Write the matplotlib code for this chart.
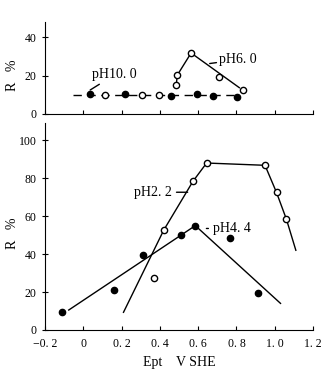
import matplotlib
matplotlib.use("Agg")
import matplotlib.pyplot as plt

plt.rcParams['font.family'] = ['Liberation Serif', 'DejaVu Serif']

# ---- top panel data ----
ph10_filled_x = [0.036, 0.218, 0.459, 0.592, 0.679, 0.802]
ph10_filled_y = [10.2, 10.2, 9.4, 10.4, 9.2, 9.0]
ph10_open_x = [0.113, 0.305, 0.393]
ph10_open_y = [9.7, 9.7, 9.7]
ph10_line_x = [-0.054, 0.815]
ph10_line_y = [9.7, 9.7]

ph6_open_x = [0.486, 0.49, 0.563, 0.71, 0.833]
ph6_open_y = [15.1, 20.1, 31.8, 19.4, 12.5]
ph6_line_x = [0.486, 0.49, 0.563, 0.815]
ph6_line_y = [15.1, 20.1, 31.8, 13.7]

# ---- bottom panel data ----
ph22_open_x = [0.42, 0.573, 0.644, 0.949, 1.009, 1.061, 0.369]
ph22_open_y = [52.6, 78.4, 88.0, 86.8, 72.5, 58.3, 27.5]
ph22_line_x = [0.21, 0.42, 0.573, 0.644, 0.949, 1.009, 1.061, 1.11]
ph22_line_y = [9.3, 52.6, 78.4, 88.0, 86.8, 72.5, 58.3, 42.0]

ph44_filled_x = [-0.11, 0.16, 0.313, 0.51, 0.585, 0.767, 0.911]
ph44_filled_y = [9.3, 20.9, 39.6, 50.0, 54.7, 48.3, 19.5]
ph44_line_x = [-0.076, 0.585, 1.03]
ph44_line_y = [10.5, 55.0, 14.0]

xticks = [-0.2, 0, 0.2, 0.4, 0.6, 0.8, 1.0, 1.2]
xticklabels = ['\u22120. 2', '0', '0. 2', '0. 4', '0. 6', '0. 8', '1. 0', '1. 2']
top_yticks = [0, 20, 40]
bot_yticks = [0, 20, 40, 60, 80, 100]

fig = plt.figure(figsize=(3.32, 3.85), dpi=100)
ax1 = fig.add_axes([0.1355, 0.704, 0.8075, 0.239])
ax2 = fig.add_axes([0.1355, 0.143, 0.8075, 0.537])

ms = 4.5
for ax in (ax1, ax2):
    ax.spines['top'].set_visible(False)
    ax.spines['right'].set_visible(False)
    ax.set_xlim(-0.2, 1.2)
    ax.set_xticks(xticks)
    ax.tick_params(axis='x', direction='in', length=3, labelsize=8.5, pad=6)
    ax.tick_params(axis='y', direction='inout', length=5, labelsize=8.5)

# top panel
ax1.plot(ph10_line_x, ph10_line_y, color='black', lw=1, dashes=(6, 4))
ax1.plot(ph10_filled_x, ph10_filled_y, 'o', color='black', ms=ms, ls='none')
ax1.plot(ph10_open_x, ph10_open_y, 'o', mfc='white', mec='black', mew=1, ms=ms, ls='none')
ax1.plot(ph6_line_x, ph6_line_y, color='black', lw=1)
ax1.plot(ph6_open_x, ph6_open_y, 'o', mfc='white', mec='black', mew=1, ms=ms, ls='none')
ax1.annotate('pH10. 0', xy=(0.036, 12.5), xytext=(0.045, 18.5), fontsize=10,
             arrowprops=dict(arrowstyle='-', color='black', lw=1, shrinkA=0, shrinkB=0))
ax1.annotate('pH6. 0', xy=(0.66, 26.3), xytext=(0.71, 26.5), fontsize=10,
             arrowprops=dict(arrowstyle='-', color='black', lw=1, shrinkA=0, shrinkB=0))
ax1.set_ylim(0, 48)
ax1.set_yticks(top_yticks)
ax1.set_xticklabels([])
ax1.set_ylabel('R   %', fontsize=10)
ax1.yaxis.set_label_coords(-0.097, 0.42)

# bottom panel
ax2.plot(ph22_line_x, ph22_line_y, color='black', lw=1)
ax2.plot(ph44_line_x, ph44_line_y, color='black', lw=1)
ax2.plot(ph22_open_x, ph22_open_y, 'o', mfc='white', mec='black', mew=1, ms=ms, ls='none')
ax2.plot(ph44_filled_x, ph44_filled_y, 'o', color='black', ms=ms, ls='none')
ax2.annotate('pH2. 2', xy=(0.545, 72.6), xytext=(0.465, 72.6), fontsize=10,
             va='center', ha='right',
             arrowprops=dict(arrowstyle='-', color='black', lw=1, shrinkA=1, shrinkB=0))
ax2.annotate('pH4. 4', xy=(0.643, 53.5), xytext=(0.675, 53.5), fontsize=10, va='center',
             arrowprops=dict(arrowstyle='-', color='black', lw=1, shrinkA=1, shrinkB=0))
ax2.set_ylim(0, 109)
ax2.set_yticks(bot_yticks)
ax2.set_xticklabels(xticklabels)
ax2.set_ylabel('R   %', fontsize=10)
ax2.yaxis.set_label_coords(-0.097, 0.47)
ax2.set_xlabel('Ept    V SHE', fontsize=10, labelpad=4)

fig.savefig('out.png', dpi=100)
